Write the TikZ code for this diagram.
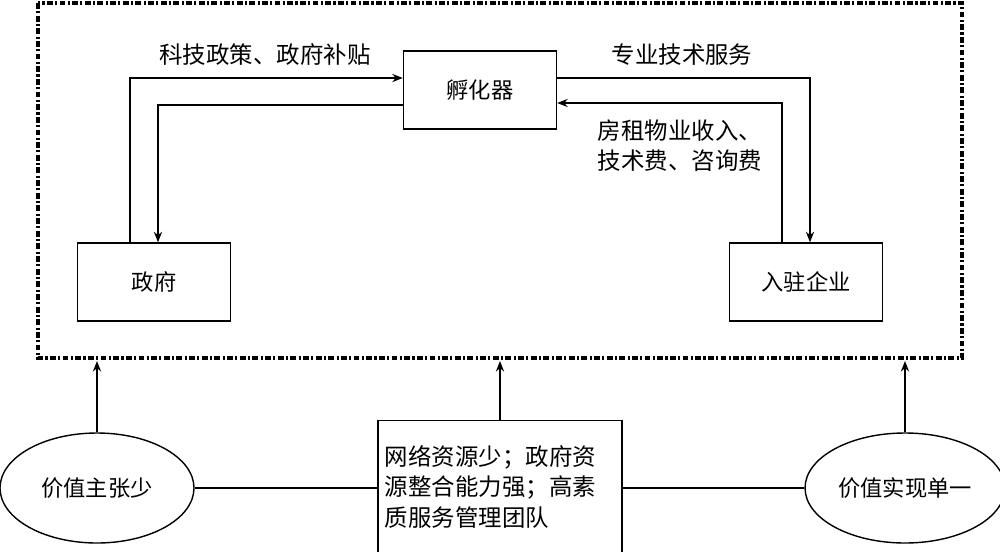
\documentclass[tikz,border=0pt]{standalone}
\usepackage{fontspec}
\newfontfamily\cjk{Noto Sans CJK SC}
\usetikzlibrary{arrows.meta,shapes.geometric}
\begin{document}
\begin{tikzpicture}[x=0.03cm,y=-0.03cm,
  box/.style={draw,line width=1.2pt,minimum width=4.59cm,minimum height=2.34cm,font=\cjk\fontsize{19}{22}\selectfont},
  lbl/.style={font=\cjk\fontsize{20}{24}\selectfont,inner sep=0pt},
  arr/.style={line width=1.2pt,-{Stealth[length=9pt,width=7pt]}},
  ln/.style={line width=1.2pt}]
\useasboundingbox (0,0) rectangle (1000,551);
\draw[line width=2.6pt,dash pattern=on 5pt off 2pt on 1.8pt off 2pt] (38,3) rectangle (962,358);
\node[box] (inc) at (480,90) {孵化器};
\node[box] (gov) at (154,282) {政府};
\node[box] (ent) at (806,282) {入驻企业};
\node[draw,line width=1.2pt,ellipse,minimum width=5.82cm,minimum height=3.3cm,font=\cjk\fontsize{19}{22}\selectfont] (l) at (97,488) {价值主张少};
\node[draw,line width=1.2pt,ellipse,minimum width=5.82cm,minimum height=3.3cm,font=\cjk\fontsize{19}{22}\selectfont] (r) at (905,488) {价值实现单一};
\node[draw,line width=1.2pt,minimum width=7.32cm,minimum height=3.96cm,align=left,font=\cjk\fontsize{20}{24}\selectfont,text width=6.9cm,anchor=north] (m) at (500,420) {网络资源少；政府资\\[2pt]源整合能力强；高素\\[2pt]质服务管理团队};
\coordinate (a1) at (130,78); \coordinate (a2) at (158,105);
\coordinate (b1) at (810,78); \coordinate (b2) at (782,103);
\draw[arr] (gov.north -| a1) -- (a1) -- (inc.west |- a1);
\draw[arr] (inc.west |- a2) -- (a2) -- (gov.north -| a2);
\draw[arr] (inc.east |- b1) -- (b1) -- (ent.north -| b1);
\draw[arr] (ent.north -| b2) -- (b2) -- (inc.east |- b2);
\node[lbl] (t1) at (265,55) {科技政策、政府补贴};
\node[lbl] (t2) at (682,55) {专业技术服务};
\node[lbl] (t3) at (680,131) {房租物业收入、};
\node[lbl] (t4) at (680,161) {技术费、咨询费};
\coordinate (f1) at (97,361); \coordinate (f2) at (500,361); \coordinate (f3) at (905,361);
\draw[arr] (l.north) -- (f1);
\draw[arr] (m.north) -- (f2);
\draw[arr] (r.north) -- (f3);
\draw[ln] (l.east) -- (m.west |- l.east);
\draw[ln] (r.west) -- (m.east |- r.west);
\end{tikzpicture}
\end{document}
